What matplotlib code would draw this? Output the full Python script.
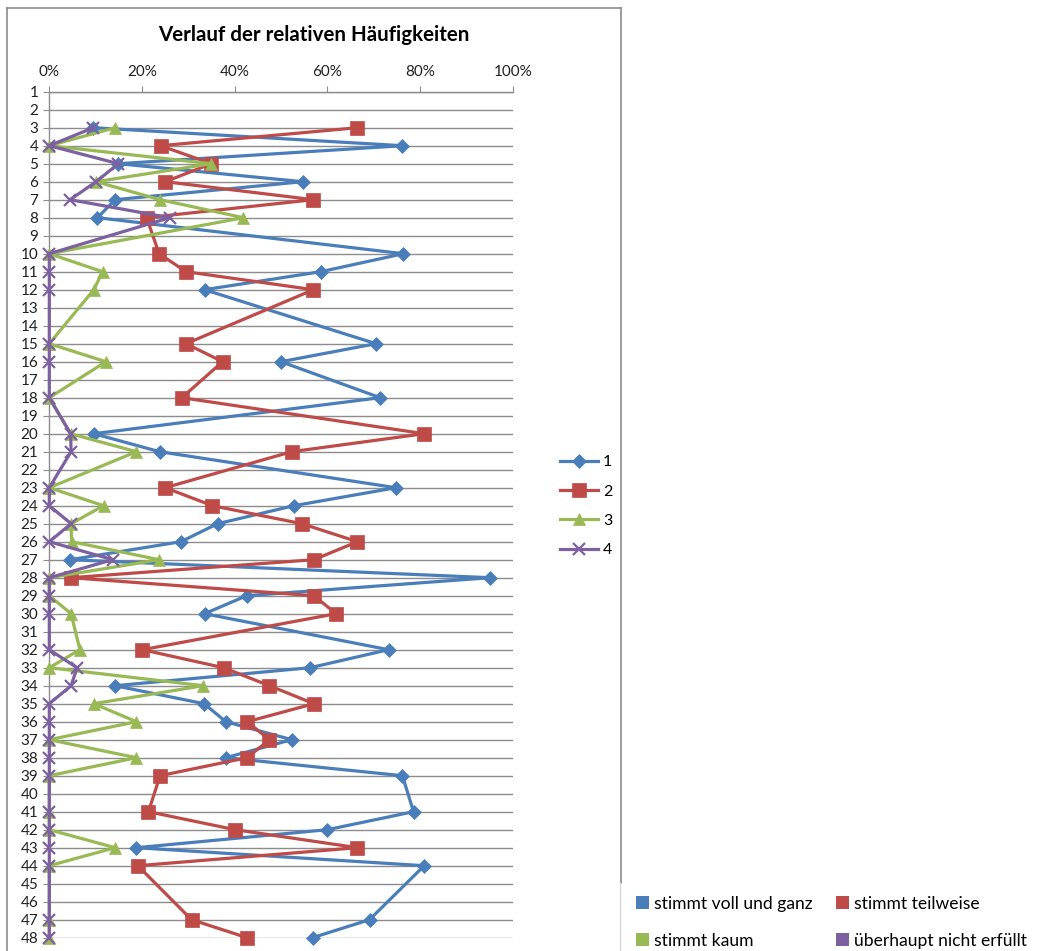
import matplotlib
matplotlib.use('Agg')
import matplotlib.pyplot as plt
from matplotlib.lines import Line2D
from matplotlib.patches import Patch
from matplotlib.ticker import PercentFormatter, MultipleLocator

plt.rcParams['font.family'] = ['Lato', 'DejaVu Sans']

# Fragen (Zeilennummern), bei denen Antworten vorliegen
zeilen = [3, 4, 5, 6, 7, 8, 10, 11, 12, 15, 16, 18, 20, 21, 23, 24, 25, 26, 27, 28,
          29, 30, 32, 33, 34, 35, 36, 37, 38, 39, 41, 42, 43, 44, 47, 48]

# relative Häufigkeiten in Prozent
serie_1 = [9.5, 76.2, 14.9, 54.7, 14.2, 10.4, 76.4, 58.6, 33.5, 70.5, 50.0, 71.4,
           9.6, 23.8, 74.8, 52.8, 36.3, 28.4, 4.5, 95.1, 42.6, 33.5, 73.2, 56.3,
           14.2, 33.4, 38.1, 52.3, 38.1, 76.2, 78.6, 60.0, 18.8, 80.9, 69.1, 56.8]
serie_2 = [66.5, 24.0, 35.0, 25.0, 57.0, 21.0, 23.7, 29.5, 57.0, 29.5, 37.4, 28.6,
           80.9, 52.3, 25.0, 35.2, 54.5, 66.5, 57.1, 4.7, 57.1, 61.9, 20.1, 37.6,
           47.5, 57.1, 42.7, 47.5, 42.7, 23.9, 21.4, 40.1, 66.5, 19.1, 30.7, 42.7]
serie_3 = [14.2, 0, 35.0, 10.1, 23.9, 41.9, 0, 11.5, 9.6, 0, 12.2, 0,
           4.6, 18.8, 0, 11.7, 4.7, 4.8, 23.7, 0, 0, 4.7, 6.6, 0,
           33.2, 9.6, 18.8, 0, 18.8, 0, 0, 0, 14.2, 0, 0, 0]
serie_4 = [9.5, 0, 14.9, 10.1, 4.5, 26.0, 0, 0, 0, 0, 0, 0,
           4.6, 4.7, 0, 0, 4.7, 0, 13.7, 0, 0, 0, 0, 6.0,
           4.7, 0, 0, 0, 0, 0, 0, 0, 0, 0, 0, 0]

serien_namen = ['1', '2', '3', '4']
kategorien = ['stimmt voll und ganz', 'stimmt teilweise', 'stimmt kaum',
              'überhaupt nicht erfüllt']

FARBEN = ['#4A7EBB', '#BE4B48', '#98B954', '#7D60A0']
MARKER = [('D', 7.5), ('s', 9.5), ('^', 9), ('x', 8)]
GRAU = '#8c8c8c'

W, H = 1037, 951
fig = plt.figure(figsize=(W / 100, H / 100), dpi=100)

# Achsenbereich in Pixeln (links, oben, rechts, unten)
x0, y0, x1, y1 = 49.3, 91.7, 512.7, 937.7
ax = fig.add_axes([x0 / W, 1 - y1 / H, (x1 - x0) / W, (y1 - y0) / H])

linien = []
for werte, farbe, (m, ms), name in zip([serie_1, serie_2, serie_3, serie_4],
                                       FARBEN, MARKER, serien_namen):
    ln, = ax.plot(werte, zeilen, color=farbe, lw=2.3, marker=m, markersize=ms,
                  markeredgewidth=1.6 if m == 'x' else 0.5,
                  markeredgecolor=farbe, label=name, clip_on=False, zorder=3)
    linien.append(ln)

ax.set_xlim(0, 100)
ax.set_ylim(48, 1)
ax.xaxis.set_major_locator(MultipleLocator(20))
ax.xaxis.set_major_formatter(PercentFormatter(100, decimals=0))
ax.set_yticks(range(1, 49))
ax.xaxis.tick_top()

ax.grid(axis='y', color=GRAU, lw=1.0, zorder=0)
ax.set_axisbelow(True)
for s in ['right', 'bottom']:
    ax.spines[s].set_visible(False)
for s in ['left', 'top']:
    ax.spines[s].set_color(GRAU)
    ax.spines[s].set_linewidth(1.0)

ax.tick_params(axis='x', direction='out', length=4, color=GRAU, pad=5,
               labelsize=11, labelcolor='#222222')
ax.tick_params(axis='y', direction='out', length=4, color=GRAU, pad=4,
               labelsize=11, labelcolor='#222222')

fig.text(314 / W, 1 - 35 / H, 'Verlauf der relativen Häufigkeiten',
         ha='center', va='center', fontsize=14.8, fontweight='bold')

# Rahmen des Diagrammbereichs
fig.add_artist(Line2D([7 / W, 7 / W], [1 - 8 / H, 0], color=GRAU, lw=1.2))
fig.add_artist(Line2D([7 / W, 621 / W], [1 - 8 / H, 1 - 8 / H], color=GRAU, lw=1.2))
fig.add_artist(Line2D([621 / W, 621 / W], [1 - 8 / H, 1 - 883 / H], color=GRAU, lw=1.2))
fig.add_artist(Line2D([620 / W, 620 / W], [1 - 883 / H, 0], color='#d9d9d9', lw=1.0))

# Legende der Datenreihen
fig.legend(handles=linien, labels=serien_namen, loc='upper left',
           bbox_to_anchor=(560 / W, 1 - 455 / H), frameon=False, fontsize=11.5,
           numpoints=1, handlelength=2.4, handletextpad=0.3, labelspacing=0.95,
           borderpad=0, borderaxespad=0)

# Legende der Antwortkategorien
felder = [Patch(facecolor=f, edgecolor='none') for f in FARBEN]
fig.legend(handles=[felder[0], felder[2], felder[1], felder[3]],
           labels=[kategorien[0], kategorien[2], kategorien[1], kategorien[3]],
           loc='upper left', bbox_to_anchor=(636 / W, 1 - 896 / H), ncol=2,
           frameon=False, fontsize=12.6, handlelength=0.75, handleheight=0.75,
           handletextpad=0.3, columnspacing=1.3, labelspacing=1.2,
           borderpad=0, borderaxespad=0)

fig.savefig('out.png', dpi=100)
